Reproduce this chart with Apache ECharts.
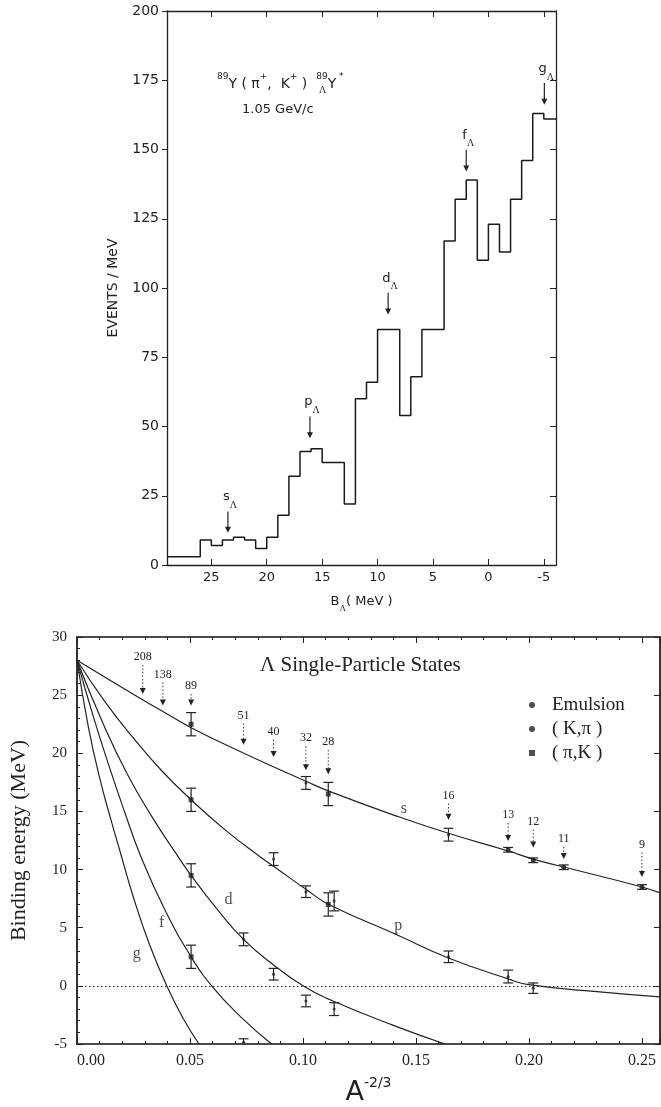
<!DOCTYPE html>
<html><head><meta charset="utf-8">
<script src="https://cdn.jsdelivr.net/npm/echarts@6/dist/echarts.min.js"></script>
<style>html,body{margin:0;padding:0;background:#fff}#c{width:661px;height:1107px}</style>
</head><body><div id="c"></div>
<script>
// ===== Top panel: 89Y(pi+,K+) histogram =====
const histBinStart = [29,28,27,26,25,24,23,22,21,20,19,18,17,16,15,14,13,12,11,10,9,8,7,6,5,4,3,2,1,0,-1,-2,-3,-4,-5];
const histCounts   = [3,3,3,9,7,9,10,9,6,10,18,32,41,42,37,37,22,60,66,85,85,54,68,85,85,117,132,139,110,123,113,132,146,163,161];
const histEnd = -6.1;
const histXTicks = [25,20,15,10,5,0,-5];
const peakNames    = ['s','p','d','f','g'];
const peakB        = [23.5,16.1,9.05,2.0,-5.05];
const peakArrowTop = [19.3,53.6,98.3,149.9,174.0];
const peakArrowTip = [11.6,45.8,90.4,142.1,166.2];

// ===== Bottom panel: Lambda single-particle states =====
const sCurve = [[0,28],[0.029,24.6],[0.038,23.6],[0.0505,22.2],[0.075,19.9],[0.1013,17.6],[0.112,16.7],[0.1415,14.6],[0.1647,13.1],[0.1908,11.6],[0.2019,10.9],[0.2159,10.2],[0.25,8.5],[0.258,8.0]];
const pCurve = [[0,28],[0.0125,24.4],[0.025,21.3],[0.0375,18.5],[0.0505,16.0],[0.065,13.5],[0.081,11.1],[0.0876,10.2],[0.1013,8.3],[0.1115,7.0],[0.1415,4.4],[0.1644,2.4],[0.1908,0.6],[0.2,0.1],[0.23,-0.5],[0.258,-0.95]];
const dCurve = [[0,28],[0.011,22.8],[0.022,18.3],[0.033,14.6],[0.0441,11.3],[0.0505,9.5],[0.062,6.6],[0.0737,4.0],[0.087,1.8],[0.1,0.0],[0.112,-1.2],[0.14,-3.4],[0.1628,-5]];
const fCurve = [[0,28],[0.007,23.3],[0.014,19.0],[0.021,15.0],[0.0279,11.3],[0.039,6.5],[0.0505,2.5],[0.0596,0],[0.0721,-2.6],[0.0861,-5]];
const gCurve = [[0,28],[0.005,22.3],[0.01,17.9],[0.015,14.3],[0.019,11.6],[0.025,7.6],[0.032,3.6],[0.0397,0],[0.047,-2.8],[0.054,-5]];
const curveNames  = ['s','p','d','f','g'];
const curveLabelX = [0.1447,0.1422,0.067,0.0375,0.0264];
const curveLabelY = [15.26,5.15,7.4,5.43,2.76];

const ptX    = [0.0505,0.0505,0.0505,0.0505,0.1013,0.1112,0.1644,0.1908,0.2019,0.2154,0.25,0.087,0.1013,0.1112,0.1138,0.1644,0.1908,0.2019,0.0737,0.087,0.1013,0.1138,0.0737];
const ptY    = [22.5,16.0,9.5,2.5,17.45,16.5,13.0,11.7,10.8,10.2,8.5,10.9,8.1,7.0,7.3,2.5,0.8,-0.2,4.0,1.0,-1.3,-2.0,-4.85];
const ptErr  = [1.0,1.0,1.0,1.0,0.55,1.0,0.55,0.2,0.2,0.2,0.2,0.55,0.5,1.0,0.85,0.5,0.55,0.45,0.55,0.5,0.5,0.55,0.3];
const ptType = ['piK','piK','piK','piK','Kpi','piK','Kpi','em','em','em','em','Kpi','Kpi','piK','Kpi','Kpi','Kpi','Kpi','Kpi','Kpi','Kpi','Kpi','Kpi'];

const arrowA   = ['208','138','89','51','40','32','28','16','13','12','11','9'];
const arrowX   = [0.0291,0.038,0.0505,0.0737,0.087,0.1013,0.1112,0.1644,0.1908,0.2019,0.2154,0.25];
const arrowTop = [27.6,26.1,25.1,22.56,21.15,20.6,20.3,15.68,14.0,13.44,11.95,11.47];
const arrowTip = [25.1,24.1,24.1,20.73,19.67,18.55,18.2,14.28,12.45,11.9,10.9,9.36];

const INK = '#222';
const sans = 'DejaVu Sans';
const serif = 'Liberation Serif';

const histData = histBinStart.map((b,i)=>[b,histCounts[i]]);
histData.push([histEnd, histCounts[histCounts.length-1]]);

function arrowRenderer(labels, dotted, richLabel){
  return function(params, api){
    const x = api.value(0), t = api.value(1), tip = api.value(2);
    const p1 = api.coord([x,t]), p2 = api.coord([x,tip]);
    const h = 6, w = 3;
    const lbl = labels[params.dataIndex];
    const textStyle = richLabel ? {
      text: '{m|'+lbl+'}{s|Λ}', x: p1[0]+2, y: p1[1]-1, align:'center', verticalAlign:'bottom',
      rich: { m:{fontFamily:sans, fontSize:13, lineHeight:14, verticalAlign:'top', fill:INK},
              s:{fontFamily:serif, fontSize:10, lineHeight:20, verticalAlign:'bottom', fill:INK} }
    } : {
      text: lbl, x: p1[0], y: p1[1]-2, align:'center', verticalAlign:'bottom',
      fontFamily: serif, fontSize: 12, fill: INK
    };
    return {type:'group', children:[
      {type:'line', shape:{x1:p1[0],y1:p1[1],x2:p2[0],y2:p2[1]-h+1},
       style:{stroke:INK, lineWidth: dotted?0.9:1.2, lineDash: dotted?[1.5,2]:null}},
      {type:'polygon', shape:{points:[[p2[0]-w,p2[1]-h],[p2[0]+w,p2[1]-h],[p2[0],p2[1]]]}, style:{fill:INK}},
      {type:'text', style: textStyle}
    ]};
  };
}

function errRender(params, api){
  const x = api.value(0), y = api.value(1), e = api.value(2);
  const a = api.coord([x,y+e]), b = api.coord([x,y-e]);
  const w = 5;
  const st = {stroke:INK, lineWidth:1.2};
  return {type:'group', children:[
    {type:'line', shape:{x1:a[0],y1:a[1],x2:b[0],y2:b[1]}, style:st},
    {type:'line', shape:{x1:a[0]-w,y1:a[1],x2:a[0]+w,y2:a[1]}, style:st},
    {type:'line', shape:{x1:b[0]-w,y1:b[1],x2:b[0]+w,y2:b[1]}, style:st}
  ]};
}

function pts(type){ return ptX.map((x,i)=>[x,ptY[i],ptType[i]]).filter(d=>d[2]===type).map(d=>[d[0],d[1]]); }

function curve(name, data){
  return {name:name, type:'line', xAxisIndex:2, yAxisIndex:2, data:data, smooth:0.5,
    showSymbol:false, symbol:'none', lineStyle:{color:INK, width:1.2}, silent:true, z:3};
}

const frameLine = {show:true, onZero:false, lineStyle:{color:INK, width:1.3}};
const frameLine2 = {show:true, onZero:false, lineStyle:{color:'#111', width:1.7}};

const option = {
  backgroundColor:'#fff',
  animation:false,
  grid:[
    {left:167, right:105, top:11, bottom:542},
    {left:77, right:1, top:637, bottom:55}
  ],
  xAxis:[
    {gridIndex:0, type:'value', inverse:true, min:histEnd, max:29, position:'bottom',
     axisLine:frameLine, splitLine:{show:false},
     axisTick:{inside:true, length:6, customValues:histXTicks, lineStyle:{color:INK}},
     axisLabel:{customValues:histXTicks, fontFamily:sans, fontSize:13, color:INK, margin:6},
     name:'{b|B}{l|Λ}{b|( MeV )}', nameLocation:'middle', nameGap:30,
     nameTextStyle:{rich:{b:{fontFamily:sans, fontSize:13, color:INK, lineHeight:15, verticalAlign:'top'},
                         l:{fontFamily:serif, fontSize:9, color:INK, lineHeight:18, verticalAlign:'bottom'}}}},
    {gridIndex:0, type:'value', inverse:true, min:histEnd, max:29, position:'top',
     axisLine:frameLine, splitLine:{show:false},
     axisTick:{inside:true, length:6, customValues:histXTicks, lineStyle:{color:INK}},
     axisLabel:{show:false}},
    {gridIndex:1, type:'value', min:0, max:0.258, interval:0.05, position:'bottom',
     axisLine:frameLine2, splitLine:{show:false},
     axisTick:{inside:true, length:6, lineStyle:{color:INK}},
     minorTick:{show:true, splitNumber:5, length:3, lineStyle:{color:INK}},
     axisLabel:{fontFamily:serif, fontSize:16, color:INK, margin:9, showMaxLabel:false, alignMinLabel:'left',
                formatter:v=>v.toFixed(2)},
     name:'{a|A}{s|-2/3}', nameLocation:'middle', nameGap:32,
     nameTextStyle:{rich:{a:{fontFamily:sans, fontSize:27, color:INK, lineHeight:30, verticalAlign:'bottom'},
                         s:{fontFamily:sans, fontSize:14, color:INK, lineHeight:30, verticalAlign:'top'}}}},
    {gridIndex:1, type:'value', min:0, max:0.258, interval:0.05, position:'top',
     axisLine:frameLine2, splitLine:{show:false},
     axisTick:{inside:true, length:6, lineStyle:{color:INK}},
     minorTick:{show:true, splitNumber:5, length:3, lineStyle:{color:INK}},
     axisLabel:{show:false}}
  ],
  yAxis:[
    {gridIndex:0, type:'value', min:0, max:200, interval:25, position:'left',
     axisLine:frameLine, splitLine:{show:false},
     axisTick:{inside:false, length:5, lineStyle:{color:INK}},
     axisLabel:{fontFamily:sans, fontSize:14, color:INK, margin:8},
     name:'EVENTS / MeV', nameLocation:'middle', nameRotate:90, nameGap:47,
     nameTextStyle:{fontFamily:sans, fontSize:14, color:INK}},
    {gridIndex:0, type:'value', min:0, max:200, interval:25, position:'right',
     axisLine:frameLine, splitLine:{show:false},
     axisTick:{inside:true, length:6, lineStyle:{color:INK}}, axisLabel:{show:false}},
    {gridIndex:1, type:'value', min:-5, max:30, interval:5, position:'left',
     axisLine:frameLine2, splitLine:{show:false},
     axisTick:{inside:true, length:6, lineStyle:{color:INK}},
     minorTick:{show:true, splitNumber:5, length:3, lineStyle:{color:INK}},
     axisLabel:{fontFamily:serif, fontSize:15, color:INK, margin:10},
     name:'Binding energy (MeV)', nameLocation:'middle', nameRotate:90, nameGap:47,
     nameTextStyle:{fontFamily:serif, fontSize:22, color:INK}},
    {gridIndex:1, type:'value', min:-5, max:30, interval:5, position:'right',
     axisLine:frameLine2, splitLine:{show:false},
     axisTick:{inside:true, length:6, lineStyle:{color:INK}}, axisLabel:{show:false}}
  ],
  legend:{
    orient:'vertical', left:524, top:690, itemWidth:6, itemHeight:6, itemGap:4,
    data:[{name:'Emulsion', icon:'circle'},{name:'( K,π )', icon:'circle'},{name:'( π,K )', icon:'rect'}],
    textStyle:{fontFamily:serif, fontSize:19, color:INK, lineHeight:20, padding:[0,0,0,12]},
    selectedMode:false, itemStyle:{color:INK}
  },
  graphic:[
    {type:'text', left:217, top:72, style:{
      text:'{sup|89}{n|Y ( π}{sup|+}{n|,  K}{sup|+}{n| )  }{sup|89}{n|Y}{sup| *}',
      rich:{n:{fontFamily:sans, fontSize:14, lineHeight:19, verticalAlign:'bottom', fill:INK},
            sup:{fontFamily:sans, fontSize:9, lineHeight:11, verticalAlign:'top', fill:INK}}}},
    {type:'text', left:319, top:85, style:{text:'Λ', fontFamily:serif, fontSize:10, fill:INK}},
    {type:'text', left:242, top:103, style:{text:'1.05 GeV/c', fontFamily:sans, fontSize:13, fill:INK}},
    {type:'text', left:260, top:655, style:{text:'Λ Single-Particle States', fontFamily:serif, fontSize:21, fill:INK}}
  ],
  series:[
    {name:'hist', type:'line', xAxisIndex:0, yAxisIndex:0, data:histData, step:'end',
     showSymbol:false, symbol:'none', lineStyle:{color:'#1a1a1a', width:1.5}, silent:true},
    {name:'peaks', type:'custom', xAxisIndex:0, yAxisIndex:0,
     data:peakB.map((b,i)=>[b,peakArrowTop[i],peakArrowTip[i]]),
     encode:{x:0, y:[1,2]}, renderItem:arrowRenderer(peakNames,false,true), silent:true},
    curve('sc', sCurve), curve('pc', pCurve), curve('dc', dCurve), curve('fc', fCurve), curve('gc', gCurve),
    {name:'zero', type:'line', xAxisIndex:2, yAxisIndex:2, data:[], silent:true,
     markLine:{silent:true, symbol:['none','none'], label:{show:false},
       lineStyle:{color:INK, type:[1.5,2.5], width:1.2}, data:[{yAxis:0}]}},
    {name:'err', type:'custom', xAxisIndex:2, yAxisIndex:2, clip:true,
     data:ptX.map((x,i)=>[x,ptY[i],ptErr[i]]), encode:{x:0, y:1}, renderItem:errRender, silent:true, z:4},
    {name:'Emulsion', type:'scatter', xAxisIndex:2, yAxisIndex:2, data:pts('em'), symbol:'circle', symbolSize:5,
     itemStyle:{color:INK}, silent:true, z:5},
    {name:'( K,π )', type:'scatter', xAxisIndex:2, yAxisIndex:2, data:pts('Kpi'), symbol:'circle', symbolSize:3,
     itemStyle:{color:INK}, silent:true, z:5},
    {name:'( π,K )', type:'scatter', xAxisIndex:2, yAxisIndex:2, data:pts('piK'), symbol:'rect', symbolSize:5,
     itemStyle:{color:INK}, silent:true, z:5},
    {name:'nuclei', type:'custom', xAxisIndex:2, yAxisIndex:2,
     data:arrowX.map((x,i)=>[x,arrowTop[i],arrowTip[i]]), encode:{x:0, y:[1,2]},
     renderItem:arrowRenderer(arrowA,true,false), silent:true},
    {name:'labels', type:'scatter', xAxisIndex:2, yAxisIndex:2, symbolSize:0,
     data:curveLabelX.map((x,i)=>[x,curveLabelY[i]]), silent:true,
     label:{show:true, position:'inside', formatter:p=>curveNames[p.dataIndex], fontFamily:serif, fontSize:16, color:INK}}
  ]
};
const chart = echarts.init(document.getElementById('c'), null, {renderer:'canvas'});
chart.setOption(option);
</script></body></html>
